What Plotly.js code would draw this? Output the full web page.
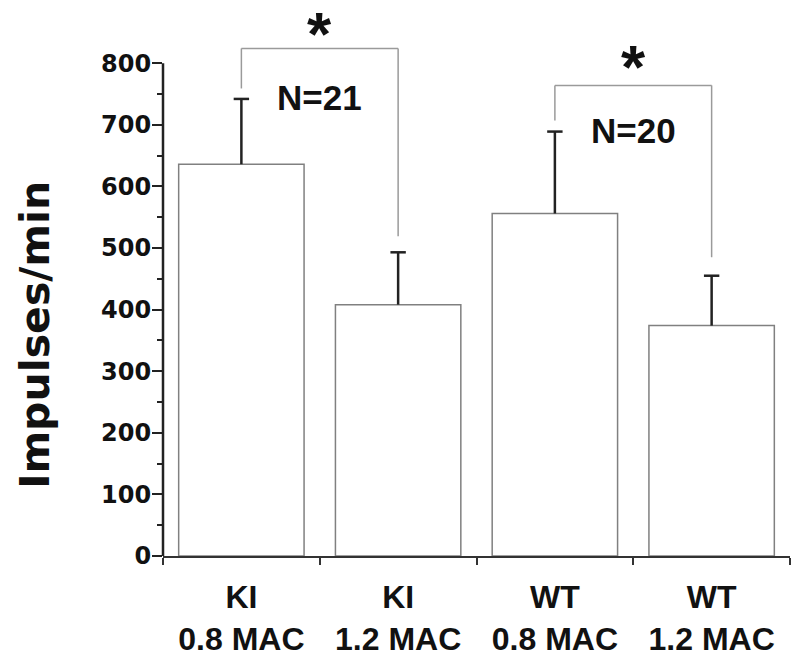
<!DOCTYPE html>
<html>
<head>
<meta charset="utf-8">
<script src="https://cdn.plot.ly/plotly-3.0.1.min.js"></script>
<style>html,body{margin:0;padding:0;background:#fff;}#chart{width:800px;height:662px;}</style>
</head>
<body>
<div id="chart"></div>
<script>
// ---- data ----
var categories = ['KI<br>0.8 MAC', 'KI<br>1.2 MAC', 'WT<br>0.8 MAC', 'WT<br>1.2 MAC'];
var impulses = [636, 408, 556, 374];
var errUpper = [106, 85, 133, 81];
var yTickVals = [0, 100, 200, 300, 400, 500, 600, 700, 800];
var yMinorVals = [50, 150, 250, 350, 450, 550, 650, 750];
// significance brackets
var bracketLeft = [0, 2];
var bracketRight = [1, 3];
var bracketTop = [824, 764];
var bracketLeftBottom = [759, 707];
var bracketRightBottom = [519, 485];
var starY = [849, 795];
var nLabels = ['N=21', 'N=20'];
var nLabelY = [745, 691];
var yTitle = 'Impulses/min';

var yMax = 875;

var shapes = [];
var annotations = [];
for (var i = 0; i < bracketLeft.length; i++) {
  var xl = categories[bracketLeft[i]], xr = categories[bracketRight[i]];
  var ln = {color: '#9a9a9a', width: 1.5};
  shapes.push({type: 'line', xref: 'x', yref: 'y', x0: xl, x1: xl, y0: bracketLeftBottom[i], y1: bracketTop[i], line: ln});
  shapes.push({type: 'line', xref: 'x', yref: 'y', x0: xl, x1: xr, y0: bracketTop[i], y1: bracketTop[i], line: ln});
  shapes.push({type: 'line', xref: 'x', yref: 'y', x0: xr, x1: xr, y0: bracketRightBottom[i], y1: bracketTop[i], line: ln});
  var mid = (bracketLeft[i] + bracketRight[i]) / 2;
  annotations.push({xref: 'x', yref: 'y', x: mid, y: starY[i], text: '<b>*</b>', showarrow: false,
    font: {family: 'Liberation Sans, Arial, sans-serif', size: 62, color: '#111'}, yanchor: 'middle'});
  annotations.push({xref: 'x', yref: 'y', x: mid, y: nLabelY[i], text: '<b>' + nLabels[i] + '</b>', showarrow: false,
    font: {family: 'Liberation Sans, Arial, sans-serif', size: 35, color: '#111'}, yanchor: 'middle'});
}
// y-axis title placed as rotated annotation
annotations.push({xref: 'paper', yref: 'y', x: 0, xshift: -128, y: 359, text: '<b>' + yTitle + '</b>', textangle: -90,
  showarrow: false, xanchor: 'center', yanchor: 'middle',
  font: {family: 'DejaVu Sans, sans-serif', size: 41, color: '#111'}});
// y-axis line from 0 to 800 only
shapes.push({type: 'line', xref: 'paper', yref: 'paper', x0: 0, x1: 0, y0: 0, y1: 800 / yMax,
  line: {color: '#222', width: 2.5}});

var topVals = impulses.map(function (v, k) { return v + errUpper[k]; });

var bars = {
  type: 'bar',
  x: categories,
  y: impulses,
  marker: {color: '#ffffff', line: {color: '#808080', width: 1.5}},
  error_y: {type: 'data', symmetric: false, array: errUpper, arrayminus: [0, 0, 0, 0],
    color: '#222', thickness: 2.5, width: 0},
  hoverinfo: 'none'
};
var caps = {
  type: 'scatter', mode: 'markers',
  x: categories, y: topVals,
  marker: {symbol: 'line-ew', size: 11, line: {color: '#222', width: 2.5}},
  hoverinfo: 'none', cliponaxis: false
};

var layout = {
  width: 800, height: 662,
  margin: {l: 163, r: 10, t: 17, b: 106},
  paper_bgcolor: '#fff', plot_bgcolor: '#fff',
  showlegend: false,
  bargap: 0.2,
  xaxis: {
    type: 'category',
    showline: true, linecolor: '#333', linewidth: 2,
    ticks: 'outside', tickson: 'boundaries', ticklen: 7, tickwidth: 2, tickcolor: '#333',
    tickfont: {family: 'Liberation Sans, Arial, sans-serif', size: 32, color: '#111', weight: 'bold'},
    ticklabelstandoff: 12,
    showgrid: false, zeroline: false
  },
  yaxis: {
    range: [0, yMax],
    showline: false, zeroline: false, showgrid: false,
    tickmode: 'array', tickvals: yTickVals,
    ticks: 'outside', ticklen: 10, tickwidth: 2, tickcolor: '#222',
    minor: {tickmode: 'array', tickvals: yMinorVals, ticks: 'outside', ticklen: 5, tickwidth: 2, tickcolor: '#222', showgrid: false},
    tickfont: {family: 'DejaVu Sans, sans-serif', size: 24, color: '#111', weight: 'bold'},
    ticklabelstandoff: -4
  },
  shapes: shapes,
  annotations: annotations
};

Plotly.newPlot('chart', [bars, caps], layout, {staticPlot: true, displayModeBar: false});
</script>
</body>
</html>
